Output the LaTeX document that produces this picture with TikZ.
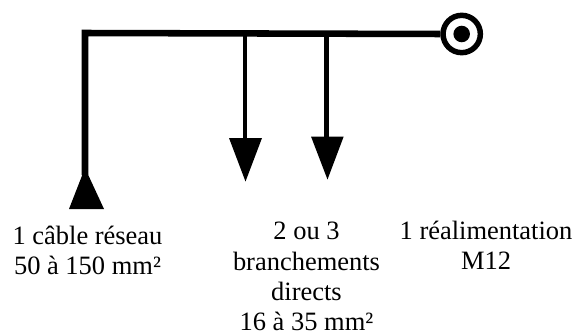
\documentclass[tikz,border=0pt]{standalone}
\usepackage{fontspec}
\setmainfont{Liberation Serif}
\begin{document}
\begin{tikzpicture}[x=0.75pt,y=-0.75pt,
  trunk/.style={line width=4.9pt,line cap=butt,line join=miter},
  branch/.style={line width=3.4pt},
  tip/.style={fill=black,draw=none},
  lbl/.style={inner sep=0pt,align=center,anchor=north,font=\fontsize{19.85pt}{22.7pt}\selectfont}]
\useasboundingbox (0,0) rectangle (575,335);
\coordinate (corner) at (85,33);
\coordinate (foot) at (85,175);
\coordinate (j1) at (245,33);
\coordinate (j2) at (326.5,33);
\coordinate (e1) at (245,140);
\coordinate (e2) at (326.5,138);
\node[circle,draw=black,line width=4.1pt,fill=white,minimum size=28pt,inner sep=0pt] (ring) at (461.7,34) {};
\node[circle,fill=black,minimum size=12.4pt,inner sep=0pt] (dot) at (ring.center) {};
\draw[trunk] (foot) -- (corner) -- (ring.west);
\draw[branch] (j1) -- (e1);
\draw[branch] (j2) -- (e2);
\fill[tip] (85,168) -- (104,209) -- (69,209) -- cycle;
\fill[tip] (229,138) -- (262,138) -- (245.5,181.5) -- cycle;
\fill[tip] (311,136.5) -- (343.7,136.5) -- (327.5,179.5) -- cycle;
\node[lbl] (a) at (87.5,226) {1 câble réseau\\50 à 150 mm²};
\node[lbl] (b) at (306.5,222.2) {2 ou 3\\branchements\\directs\\16 à 35 mm²};
\node[lbl] (c) at (486,220.5) {1 réalimentation\\M12};
\end{tikzpicture}
\end{document}
